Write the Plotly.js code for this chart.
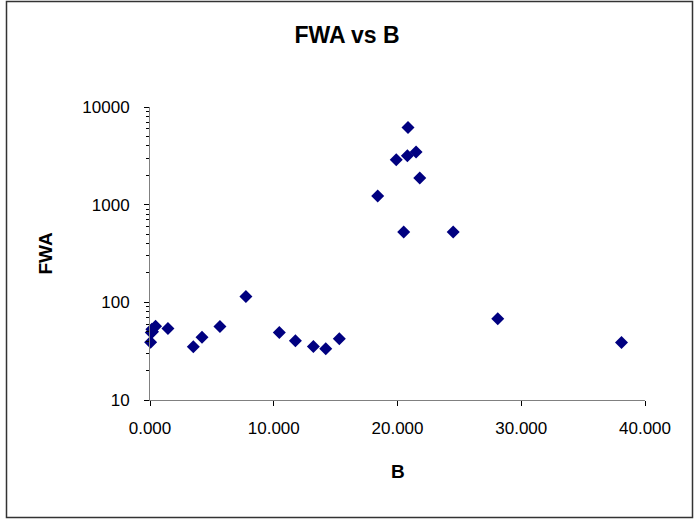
<!DOCTYPE html>
<html>
<head>
<meta charset="utf-8">
<script src="https://cdn.plot.ly/plotly-3.0.1.min.js"></script>
<style>html,body{margin:0;padding:0;background:#fff;}#chart{width:694px;height:519px;}</style>
</head>
<body>
<div id="chart"></div>
<script>
const seriesName = "FWA";
const bValues = [0.05, 0.1, 0.15, 0.2, 0.45, 1.45, 3.5, 4.2, 5.65, 7.75, 10.45, 11.75, 13.2, 14.2, 15.3, 18.4, 19.9, 20.5, 20.8, 20.85, 21.5, 21.8, 24.5, 28.1, 38.1];
const fwaValues = [39, 49, 53, 50, 57, 54, 35, 44, 56.5, 115, 49, 40.5, 35.3, 33.5, 42.5, 1230, 2880, 525, 3160, 6150, 3470, 1880, 525, 68, 38.7];
const xTickVals = [0, 10, 20, 30, 40];
const xTickText = ["0.000", "10.000", "20.000", "30.000", "40.000"];
const yTickVals = [10, 100, 1000, 10000];
const yTickText = ["10", "100", "1000", "10000"];
const chartTitle = "FWA vs B";
const xTitle = "B";
const yTitle = "FWA";

const L = 150, R = 49, T = 107, B = 119;
const W = 694, H = 519;
const pw = W - L - R, ph = H - T - B;
function px2x(p) { return (p - L) / pw; }
function py2y(p) { return (H - B - p) / ph; }

const FONT = 'Arial, "Liberation Sans", sans-serif';
const trace = {
  type: 'scatter', mode: 'markers', name: seriesName,
  x: bValues, y: fwaValues,
  marker: {symbol: 'diamond', size: 10, color: '#000080', line: {width: 0}},
  cliponaxis: false
};
const layout = {
  width: W, height: H,
  margin: {l: L, r: R, t: T, b: B, pad: 0},
  paper_bgcolor: '#ffffff', plot_bgcolor: '#ffffff',
  showlegend: false,
  font: {family: FONT, color: '#000', size: 17},
  title: {text: '<b>' + chartTitle + '</b>', x: 0.5, xref: 'container', xanchor: 'center', y: 1 - 35 / H, yref: 'container', yanchor: 'middle', font: {size: 23, family: FONT}},
  xaxis: {
    range: [0, 40], tickvals: xTickVals, ticktext: xTickText,
    showgrid: false, zeroline: false, showline: true, linecolor: '#808080', linewidth: 1,
    ticks: 'outside', ticklen: 5, tickcolor: '#000', tickwidth: 1,
    tickfont: {size: 17}, ticklabelstandoff: 8,
    automargin: false
  },
  yaxis: {
    type: 'log', range: [1, 4], tickvals: yTickVals, ticktext: yTickText,
    showgrid: false, zeroline: false, showline: true, linecolor: '#808080', linewidth: 1,
    ticks: 'outside', ticklen: 5, tickcolor: '#000', tickwidth: 1,
    tickfont: {size: 17}, ticklabelstandoff: 11,
    minor: {ticks: 'outside', ticklen: 3, tickcolor: '#000', dtick: 'D1', showgrid: false},
    automargin: false
  },
  annotations: [
    {text: '<b>' + xTitle + '</b>', xref: 'paper', yref: 'paper', x: 0.5, y: py2y(471), xanchor: 'center', yanchor: 'middle', showarrow: false, font: {size: 19, family: FONT}},
    {text: '<b>' + yTitle + '</b>', xref: 'paper', yref: 'paper', x: px2x(45), y: 0.5, xanchor: 'center', yanchor: 'middle', textangle: -90, showarrow: false, font: {size: 19, family: FONT}}
  ],
  shapes: [{
    type: 'rect', xref: 'paper', yref: 'paper',
    x0: px2x(6.5), x1: px2x(692.5), y0: py2y(517.5), y1: py2y(1.5),
    line: {color: '#333333', width: 1.5}, fillcolor: 'rgba(0,0,0,0)', layer: 'below'
  }]
};
Plotly.newPlot('chart', [trace], layout, {displayModeBar: false, staticPlot: true});
</script>
</body>
</html>
